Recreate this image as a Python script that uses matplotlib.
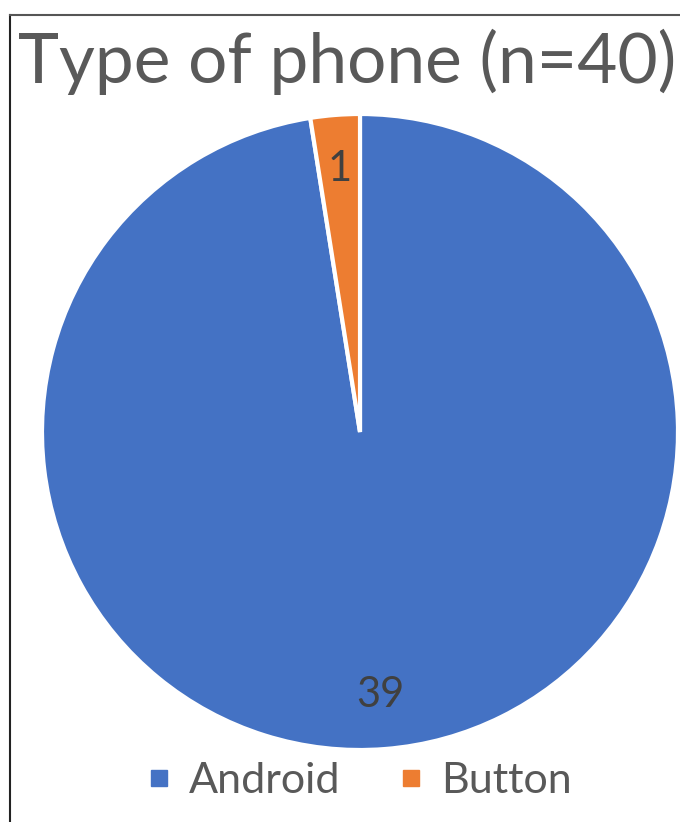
import matplotlib.pyplot as plt
from matplotlib.lines import Line2D

# Data
categories = ["Android", "Button"]
counts = [39, 1]
colors = ["#4472C4", "#ED7D31"]
title = "Type of phone (n=40)"

plt.rcParams['font.family'] = ['Lato', 'DejaVu Sans']

W, H = 680, 822
fig = plt.figure(figsize=(W / 100, H / 100), dpi=100)

# pie area in pixels: centre (360, 432), radius 318
cx, cy, r = 360, 432, 318
ax = fig.add_axes([(cx - r) / W, 1 - (cy + r) / H, 2 * r / W, 2 * r / H])

total = sum(counts)
wedges, texts, autotexts = ax.pie(
    counts, colors=colors, startangle=90, counterclock=False,
    wedgeprops={'edgecolor': 'white', 'linewidth': 3},
    autopct=lambda p: f"{round(p * total / 100)}", pctdistance=0.83,
    textprops={'fontsize': 30, 'color': '#404040'})
ax.set_xlim(-1, 1)
ax.set_ylim(-1, 1)
ax.set_aspect('equal')

fig.text(347 / W, 1 - 62 / H, title, ha='center', va='center',
         fontsize=50, color='#595959')

handles = [Line2D([], [], marker='s', linestyle='none', markersize=11,
                  markerfacecolor=c, markeredgecolor=c) for c in colors]
fig.legend(handles, categories, loc='center', bbox_to_anchor=(358 / W, 1 - 781 / H),
           ncol=2, frameon=False, fontsize=31, labelcolor='#595959',
           handletextpad=0.35, columnspacing=1.3, handlelength=0.7)

# frame lines (left and top)
fig.add_artist(Line2D([10 / W, 10 / W], [0, 1 - 15 / H], transform=fig.transFigure,
                      color='#222222', linewidth=1.5))
fig.add_artist(Line2D([10 / W, 1], [1 - 15 / H, 1 - 15 / H], transform=fig.transFigure,
                      color='#555555', linewidth=1.5))

fig.savefig('out.png', dpi=100)
